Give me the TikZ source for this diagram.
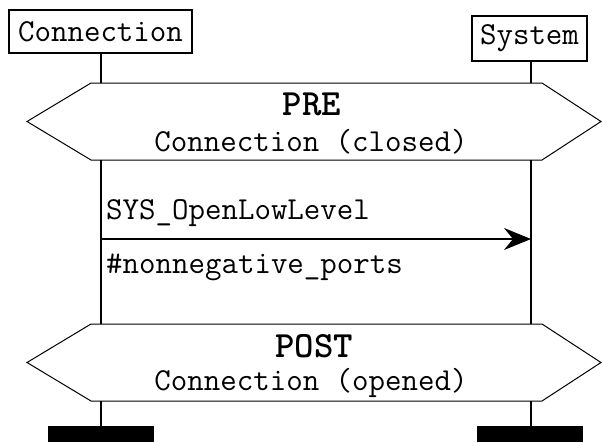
\documentclass[tikz,border=0pt]{standalone}
\usepackage{fontspec}
\usetikzlibrary{arrows.meta}
\tikzset{
  line/.style={line width=1.1pt, black},
  objbox/.style={draw, line width=1.1pt, inner sep=0pt, font=\ttfamily\fontsize{32}{34}\selectfont},
  cond/.style={line width=1pt, black, fill=white},
  condhead/.style={inner sep=0pt, font=\ttfamily\bfseries\fontsize{37}{40}\selectfont},
  condtext/.style={inner sep=0pt, font=\ttfamily\fontsize{32}{34}\selectfont},
  msglabel/.style={inner sep=0pt, anchor=base west, font=\ttfamily\fontsize{32}{34}\selectfont},
  endbar/.style={fill=black, inner sep=0pt, minimum width=106pt, minimum height=16pt},
  msg/.style={line width=1.1pt, -{Stealth[length=27pt, width=22pt, inset=9pt]}}
}
\begin{document}
\begin{tikzpicture}[x=1pt, y=-1pt]
\useasboundingbox (0,0) rectangle (602,442);

% instance heads
\node[objbox, minimum width=183pt, minimum height=43pt] (conn) at (100.5,31.5) {Connection};
\node[objbox, minimum width=115pt, minimum height=45pt] (sys) at (529.5,38.5) {System};

% PRE condition
\coordinate (preTL) at (101,83);
\coordinate (preTR) at (531,83);
\coordinate (preBL) at (101,160);
\coordinate (preBR) at (531,160);
\draw[cond] (91,83) -- (542,83) -- (601,121.5) -- (542,160) -- (91,160) -- (27,121.5) -- cycle;
\node[condhead] (pre) at (312,104) {PRE};
\node[condtext] (prestate) at (311,142) {Connection (closed)};

% POST condition
\coordinate (postTL) at (101,324);
\coordinate (postTR) at (531,324);
\coordinate (postBL) at (101,401);
\coordinate (postBR) at (531,401);
\draw[cond] (91,324) -- (542,324) -- (601,362.5) -- (542,401) -- (91,401) -- (27,362.5) -- cycle;
\node[condhead] (post) at (314,346) {POST};
\node[condtext] (poststate) at (311,383) {Connection (opened)};

% instance ends
\node[endbar] (connend) at (101,434) {};
\node[endbar] (sysend) at (530,434) {};

% lifelines
\draw[line] (preTL |- conn.south) -- (preTL);
\draw[line] (preTR |- sys.south) -- (preTR);
\draw[line] (preBL) -- (postTL);
\draw[line] (preBR) -- (postTR);
\draw[line] (postBL) -- (postBL |- connend.north);
\draw[line] (postBR) -- (postBR |- sysend.north);

% message
\coordinate (msgA) at (101,239);
\coordinate (msgB) at (531,239);
\draw[msg] (msgA) -- (msgB);
\node[msglabel] (msgname) at (106,219) {SYS\_OpenLowLevel};
\node[msglabel] (msgparam) at (106,273) {\#nonnegative\_ports};
\end{tikzpicture}
\end{document}
